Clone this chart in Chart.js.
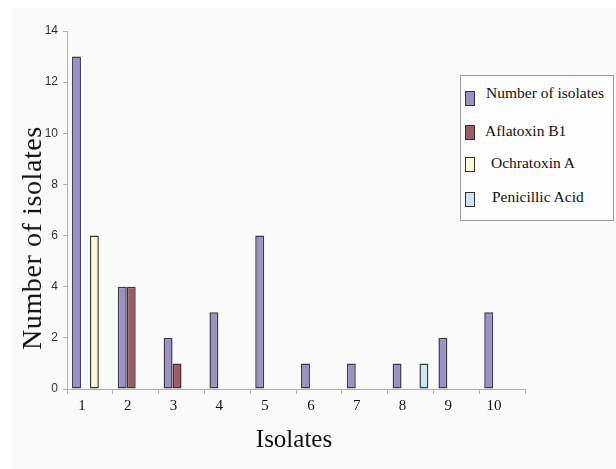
<!DOCTYPE html>
<html>
<head>
<meta charset="utf-8">
<script src="https://cdn.jsdelivr.net/npm/chart.js@4/dist/chart.umd.min.js"></script>
<style>
  html, body { margin:0; padding:0; background:#ffffff; }
  #wrap { position:relative; width:616px; height:469px; overflow:hidden; background:#ffffff; }
  #bg { position:absolute; left:13px; top:8px; right:0; bottom:0; background:#fafafa; }
  #c { position:absolute; left:0; top:0; }
  .serif { font-family:"Liberation Serif","Times New Roman",serif; color:#111; position:absolute; white-space:nowrap; }
  #ytitle { left:32px; top:238px; font-size:28px; letter-spacing:0.6px; transform:translate(-50%,-50%) rotate(-90deg); }
  #xtitle { left:294px; top:439px; font-size:25px; transform:translate(-50%,-50%); }
  #legend { position:absolute; left:460px; top:75px; width:154px; height:146px; border:1px solid #9a9a9a; background:#fdfdfd; box-sizing:border-box; }
  .sw { position:absolute; width:10px; height:15px; border:1.5px solid #333; box-sizing:border-box; }
  .lt { font-size:15.5px; line-height:18px; transform:translateY(-50%); }
</style>
</head>
<body>
<div id="wrap">
  <div id="bg"></div>
  <canvas id="c" width="616" height="469"></canvas>
  <div id="ytitle" class="serif">Number of isolates</div>
  <div id="xtitle" class="serif">Isolates</div>
  <div id="legend"></div>
</div>
<script>
const categories = ["1","2","3","4","5","6","7","8","9","10"];
const seriesNames = ["Number of isolates","Aflatoxin B1","Ochratoxin A","Penicillic Acid"];
const numberOfIsolates = [13,4,2,3,6,1,1,1,2,3];
const aflatoxinB1 = [null,4,1,null,null,null,null,null,null,null];
const ochratoxinA = [6,null,null,null,null,null,null,null,null,null];
const penicillicAcid = [null,null,null,null,null,null,null,1,null,null];
const yTicks = [0,2,4,6,8,10,12,14];

const colors = ["#9b91c8","#9e5b60","#fdf9d2","#c8e9f3"];
const seriesData = [numberOfIsolates, aflatoxinB1, ochratoxinA, penicillicAcid];

// HTML legend layout
const legendPos = [
  {sx:4, sy:15, tx:25, ty:17},
  {sx:4, sy:49, tx:24, ty:55},
  {sx:4, sy:81, tx:30, ty:87},
  {sx:4, sy:116, tx:31, ty:121}
];
const leg = document.getElementById('legend');
seriesNames.forEach((n,i)=>{
  const s = document.createElement('div');
  s.className='sw'; s.style.left=legendPos[i].sx+'px'; s.style.top=legendPos[i].sy+'px'; s.style.background=colors[i];
  leg.appendChild(s);
  const t = document.createElement('div');
  t.className='serif lt'; t.style.left=legendPos[i].tx+'px'; t.style.top=legendPos[i].ty+'px'; t.textContent=n;
  leg.appendChild(t);
});

new Chart(document.getElementById('c'), {
  type:'bar',
  data:{
    labels:categories,
    datasets: seriesNames.map((n,i)=>({
      label:n, data:seriesData[i], backgroundColor:colors[i],
      borderColor:'#3a3a3a', borderWidth:1.5, borderSkipped:false,
      categoryPercentage:0.78, barPercentage:1.0
    }))
  },
  options:{
    responsive:false, animation:false,
    layout:{ padding:{ left:0, right:91, top:31, bottom:0 } },
    plugins:{ legend:{display:false}, tooltip:{enabled:false} },
    scales:{
      x:{
        offset:true,
        grid:{ offset:true, drawOnChartArea:false, drawTicks:true, tickLength:5, color:'#b0b0b0' },
        border:{ color:'#b0b0b0', width:1 },
        ticks:{ font:{ family:'"Liberation Serif", serif', size:15 }, color:'#111', padding:3, labelOffset:-8, maxRotation:0, autoSkip:false },
        afterFit(s){ s.height = 80; }
      },
      y:{
        min:0, max:14,
        afterBuildTicks(s){ s.ticks = yTicks.map(v=>({value:v})); },
        grid:{ drawOnChartArea:false, drawTicks:true, tickLength:4, color:'#b0b0b0' },
        border:{ color:'#b0b0b0', width:1 },
        ticks:{ font:{ family:'"Liberation Sans Narrow","Arial Narrow", sans-serif', size:12 }, color:'#333', padding:5 },
        afterFit(s){ s.width = 67; }
      }
    }
  }
});
</script>
</body>
</html>
